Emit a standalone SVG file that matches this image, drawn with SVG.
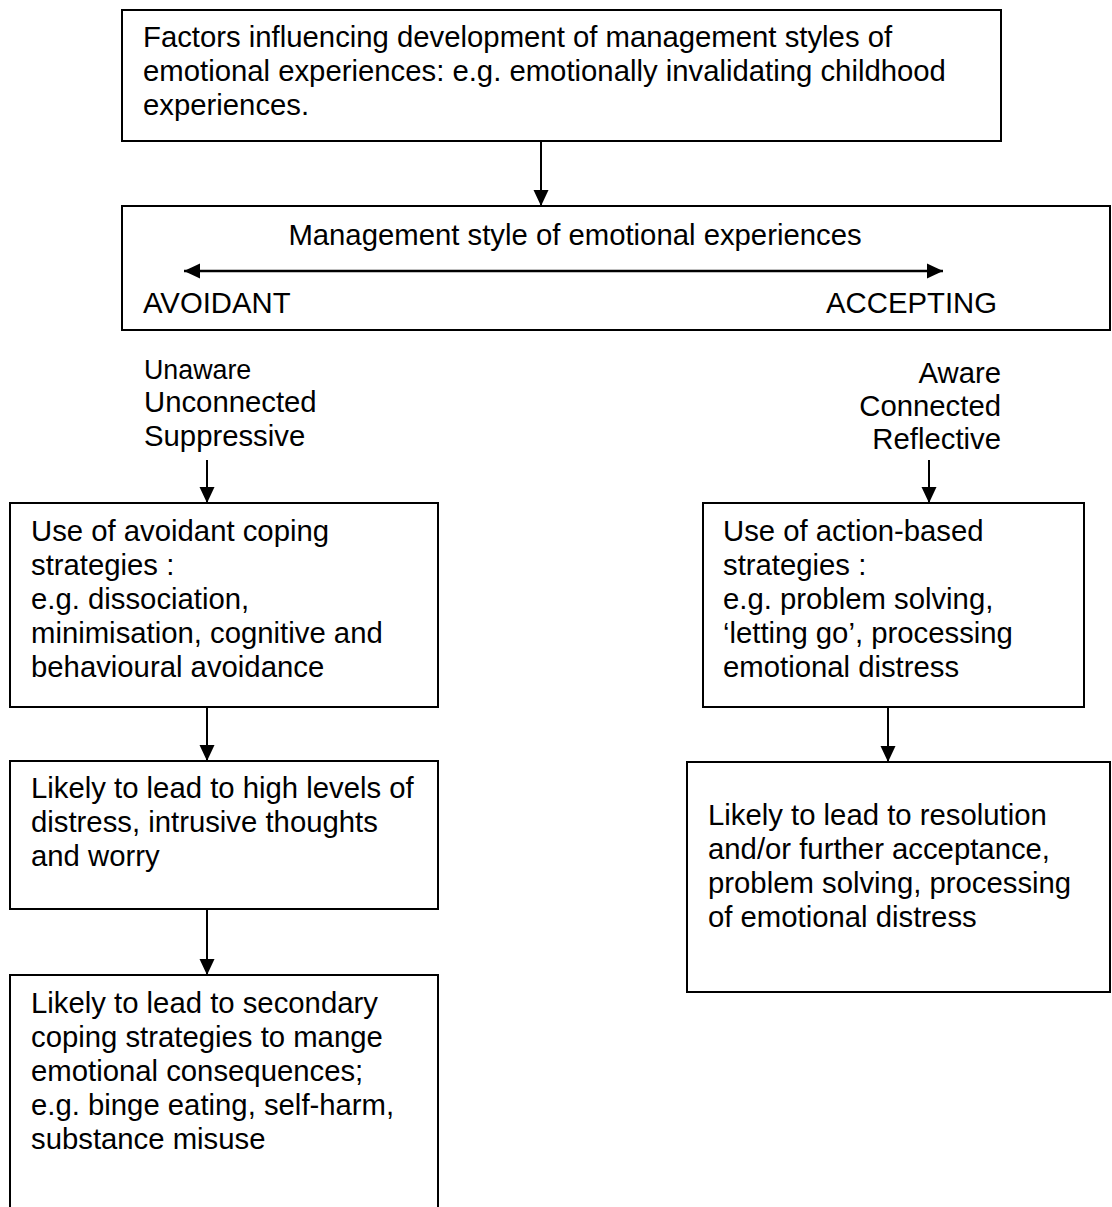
<svg xmlns="http://www.w3.org/2000/svg" width="1112" height="1207" viewBox="0 0 1112 1207">
  <style>
    .box { fill: #ffffff; stroke: #000000; stroke-width: 2; }
    .t { font-family: "Liberation Sans", Arial, Helvetica, sans-serif; font-size: 29.3px; fill: #000000; }
    .small { font-size: 26.8px; }
    .link { stroke: #000000; stroke-width: 2; fill: none; }
    .axis { stroke: #000000; stroke-width: 2.6; fill: none; }
  </style>
  <defs>
    <marker id="head" markerUnits="userSpaceOnUse" markerWidth="16" markerHeight="16" viewBox="0 0 16 16" refX="16" refY="8" orient="auto-start-reverse">
      <path d="M0,0.5 L16,8 L0,15.5 z" fill="#000000"/>
    </marker>
  </defs>
  <rect width="1112" height="1207" fill="#ffffff"/>

  <g id="factors">
    <rect class="box" x="122" y="10" width="879" height="131"/>
    <text class="t" x="143" y="47">Factors influencing development of management styles of</text>
    <text class="t" x="143" y="81">emotional experiences: e.g. emotionally invalidating childhood</text>
    <text class="t" x="143" y="115">experiences.</text>
  </g>

  <g id="management-style">
    <rect class="box" x="122" y="206" width="988" height="124"/>
    <text class="t" x="575" y="245" text-anchor="middle">Management style of emotional experiences</text>
    <text class="t" x="143" y="313">AVOIDANT</text>
    <text class="t" x="997" y="313" text-anchor="end">ACCEPTING</text>
  </g>

  <g id="avoidant-traits">
    <text class="t small" x="144" y="379">Unaware</text>
    <text class="t" x="144" y="412">Unconnected</text>
    <text class="t" x="144" y="446">Suppressive</text>
  </g>

  <g id="accepting-traits">
    <text class="t" x="1001" y="383" text-anchor="end">Aware</text>
    <text class="t" x="1001" y="416" text-anchor="end">Connected</text>
    <text class="t" x="1001" y="449" text-anchor="end">Reflective</text>
  </g>

  <g id="avoidant-coping">
    <rect class="box" x="10" y="503" width="428" height="204"/>
    <text class="t" x="31" y="541">Use of avoidant coping</text>
    <text class="t" x="31" y="575">strategies :</text>
    <text class="t" x="31" y="609">e.g. dissociation,</text>
    <text class="t" x="31" y="643">minimisation, cognitive and</text>
    <text class="t" x="31" y="677">behavioural avoidance</text>
  </g>

  <g id="action-based">
    <rect class="box" x="703" y="503" width="381" height="204"/>
    <text class="t" x="723" y="541">Use of action-based</text>
    <text class="t" x="723" y="575">strategies :</text>
    <text class="t" x="723" y="609">e.g. problem solving,</text>
    <text class="t" x="723" y="643">‘letting go’, processing</text>
    <text class="t" x="723" y="677">emotional distress</text>
  </g>

  <g id="high-distress">
    <rect class="box" x="10" y="761" width="428" height="148"/>
    <text class="t" x="31" y="798">Likely to lead to high levels of</text>
    <text class="t" x="31" y="832">distress, intrusive thoughts</text>
    <text class="t" x="31" y="866">and worry</text>
  </g>

  <g id="resolution">
    <rect class="box" x="687" y="762" width="423" height="230"/>
    <text class="t" x="708" y="825">Likely to lead to resolution</text>
    <text class="t" x="708" y="859">and/or further acceptance,</text>
    <text class="t" x="708" y="893">problem solving, processing</text>
    <text class="t" x="708" y="927">of emotional distress</text>
  </g>

  <g id="secondary-coping">
    <rect class="box" x="10" y="975" width="428" height="260"/>
    <text class="t" x="31" y="1013">Likely to lead to secondary</text>
    <text class="t" x="31" y="1047">coping strategies to mange</text>
    <text class="t" x="31" y="1081">emotional consequences;</text>
    <text class="t" x="31" y="1115">e.g. binge eating, self-harm,</text>
    <text class="t" x="31" y="1149">substance misuse</text>
  </g>

  <g id="connectors">
    <line class="link" x1="541" y1="141" x2="541" y2="206" marker-end="url(#head)"/>
    <line class="axis" x1="184" y1="271" x2="943" y2="271" marker-start="url(#head)" marker-end="url(#head)"/>
    <line class="link" x1="207" y1="460" x2="207" y2="503" marker-end="url(#head)"/>
    <line class="link" x1="929" y1="460" x2="929" y2="503" marker-end="url(#head)"/>
    <line class="link" x1="207" y1="707" x2="207" y2="761" marker-end="url(#head)"/>
    <line class="link" x1="888" y1="707" x2="888" y2="762" marker-end="url(#head)"/>
    <line class="link" x1="207" y1="909" x2="207" y2="975" marker-end="url(#head)"/>
  </g>
</svg>
